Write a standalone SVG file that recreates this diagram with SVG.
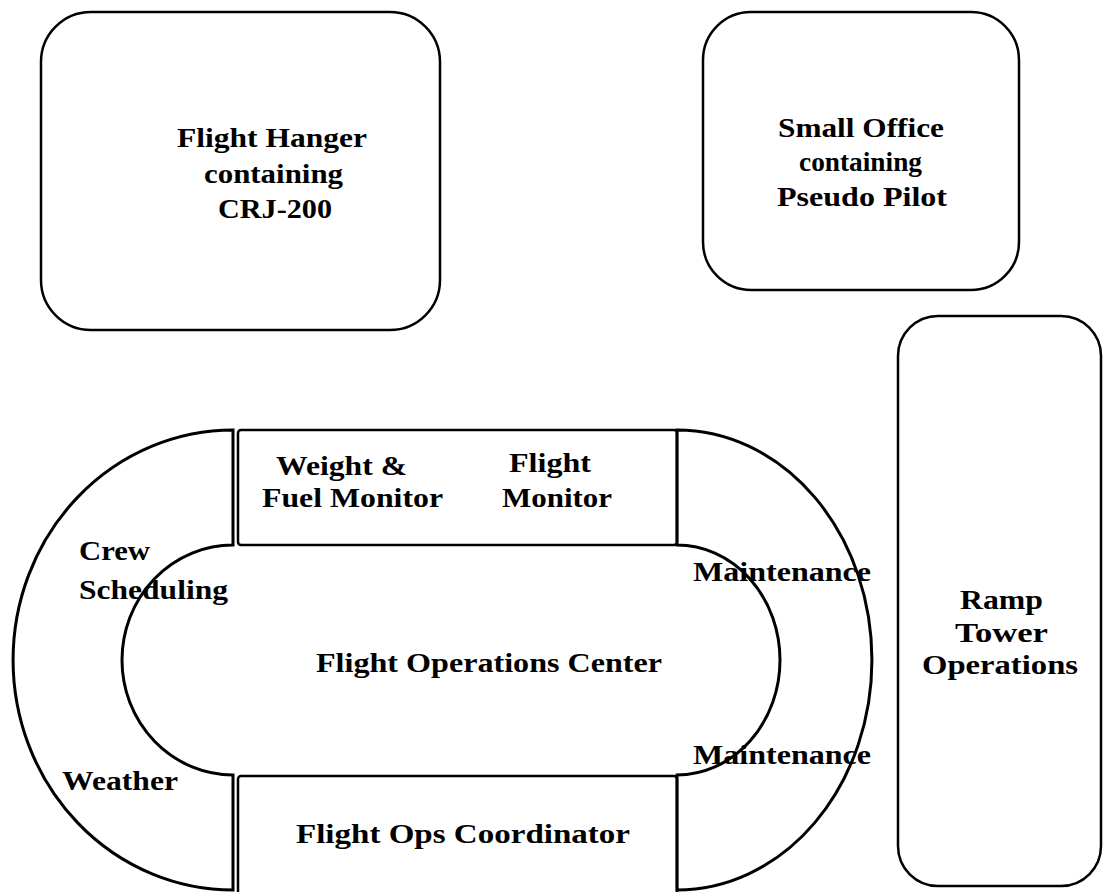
<svg xmlns="http://www.w3.org/2000/svg" width="1105" height="892" viewBox="0 0 1105 892">
<style>
.box{fill:none;stroke:#000;stroke-width:2.5}
.ring{fill:none;stroke:#000;stroke-width:3}
.t{font-family:"Liberation Serif","Times New Roman",serif;font-weight:bold;font-size:28px;fill:#000}
</style>
<rect width="1105" height="892" fill="#fff"/>
<g id="hanger">
<rect class="box" x="41" y="12" width="399" height="318" rx="50" ry="50"/>
<text class="t" x="177" y="147" textLength="190" lengthAdjust="spacingAndGlyphs">Flight Hanger</text>
<text class="t" x="204" y="183" textLength="139" lengthAdjust="spacingAndGlyphs">containing</text>
<text class="t" x="218" y="218" textLength="114" lengthAdjust="spacingAndGlyphs">CRJ-200</text>
</g>
<g id="office">
<rect class="box" x="703" y="12" width="316" height="278" rx="48" ry="48"/>
<text class="t" x="778" y="137" textLength="166" lengthAdjust="spacingAndGlyphs">Small Office</text>
<text class="t" x="799" y="171" textLength="123" lengthAdjust="spacingAndGlyphs">containing</text>
<text class="t" x="777" y="206" textLength="170" lengthAdjust="spacingAndGlyphs">Pseudo Pilot</text>
</g>
<g id="ramp">
<rect class="box" x="898" y="316" width="203" height="570" rx="40" ry="40"/>
<text class="t" x="960" y="609" textLength="83" lengthAdjust="spacingAndGlyphs">Ramp</text>
<text class="t" x="955" y="642" textLength="93" lengthAdjust="spacingAndGlyphs">Tower</text>
<text class="t" x="922" y="674" textLength="156" lengthAdjust="spacingAndGlyphs">Operations</text>
</g>
<g id="left-ring">
<path class="ring" d="M233,430 A220,230 0 0 0 233,890 L233,775 A111,115 0 0 1 233,545 Z"/>
<text class="t" x="79" y="560" textLength="71" lengthAdjust="spacingAndGlyphs">Crew</text>
<text class="t" x="79" y="599" textLength="149" lengthAdjust="spacingAndGlyphs">Scheduling</text>
<text class="t" x="62" y="790" textLength="116" lengthAdjust="spacingAndGlyphs">Weather</text>
</g>
<g id="right-ring">
<path class="ring" d="M677,430 A195,230 0 0 1 677,890 L677,775 A103,115 0 0 0 677,545 Z"/>
<text class="t" x="693" y="581" textLength="178" lengthAdjust="spacingAndGlyphs">Maintenance</text>
<text class="t" x="693" y="764" textLength="178" lengthAdjust="spacingAndGlyphs">Maintenance</text>
</g>
<g id="monitors">
<rect class="box" x="238" y="430" width="439" height="115" rx="3"/>
<text class="t" x="276" y="475" textLength="131" lengthAdjust="spacingAndGlyphs">Weight &amp;</text>
<text class="t" x="262" y="507" textLength="181" lengthAdjust="spacingAndGlyphs">Fuel Monitor</text>
<text class="t" x="509" y="472" textLength="82" lengthAdjust="spacingAndGlyphs">Flight</text>
<text class="t" x="502" y="507" textLength="110" lengthAdjust="spacingAndGlyphs">Monitor</text>
</g>
<g id="center">
<text class="t" x="316" y="672" textLength="346" lengthAdjust="spacingAndGlyphs">Flight Operations Center</text>
</g>
<g id="coordinator">
<rect class="box" x="238" y="776" width="439" height="130" rx="3"/>
<text class="t" x="296" y="843" textLength="334" lengthAdjust="spacingAndGlyphs">Flight Ops Coordinator</text>
</g>
<g id="connectors"></g>
</svg>
